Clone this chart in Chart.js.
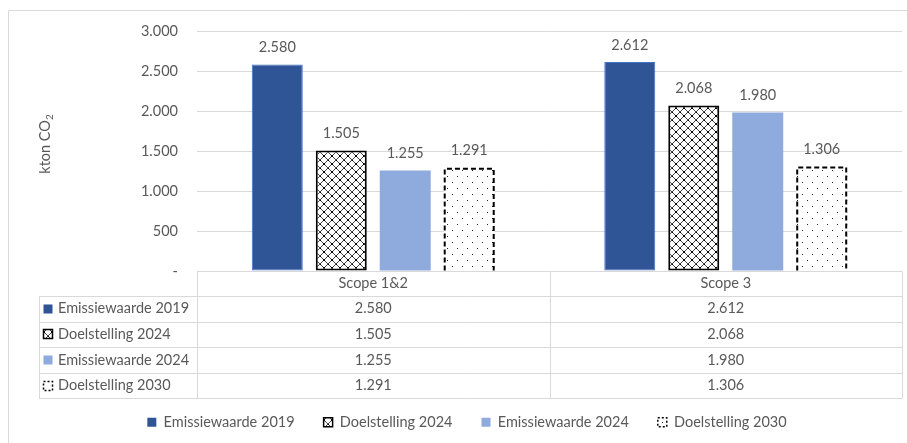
<!DOCTYPE html>
<html><head><meta charset="utf-8">
<script src="https://cdn.jsdelivr.net/npm/chart.js@4.4.1/dist/chart.umd.min.js"></script>
<style>html,body{margin:0;padding:0;background:#fff;}</style>
</head><body>
<canvas id="c" width="907" height="443"></canvas>
<script>
const categories = ['Scope 1&2', 'Scope 3'];
const seriesNames = ['Emissiewaarde 2019', 'Doelstelling 2024', 'Emissiewaarde 2024', 'Doelstelling 2030'];
const emissie2019 = [2580, 2612];
const doel2024 = [1505, 2068];
const emissie2024 = [1255, 1980];
const doel2030 = [1291, 1306];
const yTitleMain = 'kton CO';
const yTitleSub = '2';

const seriesData = [emissie2019, doel2024, emissie2024, doel2030];
const FONT = 'Lato';
const TXT = '#595959';
const GRID = '#D9D9D9';

function fmt(v) {
  if (v === 0) return '-';
  return String(v).replace(/\B(?=(\d{3})+(?!\d))/g, '.');
}

const canvas = document.getElementById('c');
const mainCtx = canvas.getContext('2d');

function makeCross() {
  const c = document.createElement('canvas'); c.width = 8; c.height = 8;
  const g = c.getContext('2d');
  g.fillStyle = '#fff'; g.fillRect(0, 0, 8, 8);
  g.fillStyle = '#444';
  for (let i = 0; i < 8; i++) { g.fillRect(i, i, 1, 1); g.fillRect(7 - i, i, 1, 1); }
  g.fillStyle = '#000';
  g.fillRect(0, 0, 1, 1); g.fillRect(4, 4, 1, 1); g.fillRect(3, 3, 1, 1); g.fillRect(3, 4, 1, 1); g.fillRect(4, 3, 1, 1);
  return mainCtx.createPattern(c, 'repeat');
}
function makeDots() {
  const c = document.createElement('canvas'); c.width = 10; c.height = 12;
  const g = c.getContext('2d');
  g.fillStyle = '#fff'; g.fillRect(0, 0, 10, 12);
  g.fillStyle = '#222';
  g.fillRect(2, 2, 1, 1); g.fillRect(7, 8, 1, 1);
  return mainCtx.createPattern(c, 'repeat');
}
const crossPat = makeCross();
const dotPat = makeDots();

const fills = ['#2F5597', crossPat, '#8FAADC', dotPat];
const strokes = ['#4472C4', '#000', '#8FAADC', '#000'];
const swLine = [0, 1.5, 0, 1.5];
const swDash = [[], [], [], [2, 2]];

const framePlugin = {
  id: 'frame',
  beforeDraw(chart) {
    const ctx = chart.ctx;
    ctx.save();
    ctx.fillStyle = '#fff';
    ctx.fillRect(0, 0, chart.width, chart.height);
    ctx.strokeStyle = GRID; ctx.lineWidth = 1;
    ctx.beginPath();
    ctx.moveTo(8.5, chart.height); ctx.lineTo(8.5, 10.5); ctx.lineTo(chart.width, 10.5);
    ctx.stroke();
    ctx.restore();
  }
};

const barExtrasPlugin = {
  id: 'barExtras',
  afterDatasetsDraw(chart) {
    const ctx = chart.ctx;
    ctx.save();
    const m3 = chart.getDatasetMeta(3);
    ctx.strokeStyle = '#000'; ctx.lineWidth = 2; ctx.setLineDash([5, 3]);
    m3.data.forEach(b => {
      const l = b.x - b.width / 2 + 1, r = b.x + b.width / 2 - 1;
      ctx.beginPath();
      ctx.moveTo(l, b.base); ctx.lineTo(l, b.y + 1); ctx.lineTo(r, b.y + 1); ctx.lineTo(r, b.base);
      ctx.stroke();
    });
    ctx.setLineDash([]);
    ctx.fillStyle = TXT;
    ctx.font = '14.5px ' + FONT;
    ctx.textAlign = 'center'; ctx.textBaseline = 'middle';
    seriesData.forEach((arr, i) => {
      const meta = chart.getDatasetMeta(i);
      meta.data.forEach((b, j) => ctx.fillText(fmt(arr[j]), b.x, b.y - 17));
    });
    ctx.restore();
  }
};

const tablePlugin = {
  id: 'dataTable',
  afterDraw(chart) {
    const ctx = chart.ctx;
    const area = chart.chartArea;
    const xs = chart.scales.x;
    const tLeft = 39, cLeft = area.left, right = area.right;
    const mid = (xs.getPixelForValue(0) + xs.getPixelForValue(1)) / 2;
    const top = area.bottom, headH = 25, rowH = 25.6;
    const rowsY = [];
    for (let i = 0; i <= seriesNames.length; i++) rowsY.push(top + headH + i * rowH);
    const bottom = rowsY[rowsY.length - 1];
    ctx.save();
    ctx.strokeStyle = GRID; ctx.lineWidth = 1;
    const al = v => Math.round(v) + 0.5;
    ctx.beginPath();
    rowsY.forEach(y => { ctx.moveTo(tLeft, al(y)); ctx.lineTo(right, al(y)); });
    ctx.moveTo(al(tLeft), al(rowsY[0])); ctx.lineTo(al(tLeft), al(bottom));
    [cLeft, mid, right].forEach(x => { ctx.moveTo(al(x), al(top)); ctx.lineTo(al(x), al(bottom)); });
    ctx.stroke();
    ctx.font = '14.5px ' + FONT;
    ctx.textBaseline = 'middle';
    seriesNames.forEach((name, i) => {
      const cy = (rowsY[i] + rowsY[i + 1]) / 2;
      const sx = 43.5, sy = Math.round(cy - 5) + 0.5, s = 9;
      ctx.fillStyle = fills[i];
      ctx.fillRect(sx, sy, s, s);
      if (swLine[i]) {
        ctx.strokeStyle = strokes[i]; ctx.lineWidth = swLine[i]; ctx.setLineDash(swDash[i]);
        ctx.strokeRect(sx, sy, s, s); ctx.setLineDash([]);
      }
      ctx.fillStyle = TXT;
      ctx.textAlign = 'left';
      ctx.fillText(name, 58, cy);
      ctx.textAlign = 'center';
      seriesData[i].forEach((v, j) => ctx.fillText(fmt(v), xs.getPixelForValue(j), cy));
    });
    ctx.save();
    ctx.translate(45, 144);
    ctx.rotate(-Math.PI / 2);
    ctx.font = '14.5px ' + FONT;
    const w1 = ctx.measureText(yTitleMain).width;
    ctx.font = '10px ' + FONT;
    const w2 = ctx.measureText(yTitleSub).width;
    const sx0 = -(w1 + w2) / 2;
    ctx.textAlign = 'left'; ctx.fillStyle = TXT;
    ctx.font = '14.5px ' + FONT;
    ctx.fillText(yTitleMain, sx0, 0);
    ctx.font = '10px ' + FONT;
    ctx.fillText(yTitleSub, sx0 + w1, 5);
    ctx.restore();
    ctx.restore();
  }
};

const datasets = seriesNames.map((n, i) => ({
  label: n,
  data: seriesData[i],
  backgroundColor: fills[i],
  borderColor: i === 0 ? '#4472C4' : '#000',
  borderWidth: i === 0 ? 1 : (i === 1 ? 2 : 0),
  borderSkipped: false,
  categoryPercentage: 0.726,
  barPercentage: 0.797
}));

new Chart(mainCtx, {
  type: 'bar',
  data: { labels: categories, datasets },
  plugins: [framePlugin, barExtrasPlugin, tablePlugin],
  options: {
    responsive: false,
    animation: false,
    devicePixelRatio: 1,
    layout: { padding: { left: 32, right: 5, top: 31, bottom: 3.5 } },
    plugins: {
      tooltip: { enabled: false },
      legend: {
        position: 'bottom',
        labels: {
          boxWidth: 9, boxHeight: 9, padding: 29, color: TXT,
          font: { family: FONT, size: 14.5 },
          generateLabels: () => seriesNames.map((n, i) => ({
            text: n, fillStyle: fills[i], strokeStyle: strokes[i],
            lineWidth: swLine[i], lineDash: swDash[i], datasetIndex: i,
            hidden: false, fontColor: TXT
          }))
        }
      }
    },
    scales: {
      x: {
        ticks: { padding: 4, color: TXT, font: { family: FONT, size: 14.5 } },
        grid: { display: false, drawTicks: false },
        border: { display: false },
        afterFit: s => { s.height = 115; }
      },
      y: {
        min: 0, max: 3000,
        ticks: { stepSize: 500, padding: 19, color: TXT, font: { family: FONT, size: 14.5 }, callback: v => fmt(v) },
        grid: { color: GRID, drawTicks: false },
        border: { display: false },
        afterFit: s => { s.width = 165; }
      }
    }
  }
});
</script>
</body></html>
